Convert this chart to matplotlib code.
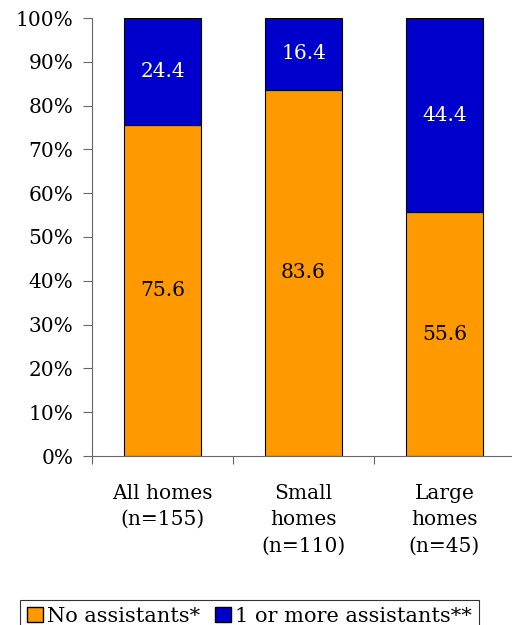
import matplotlib
matplotlib.use('Agg')
from matplotlib import pyplot as plt
from matplotlib.patches import Patch

groups = ['All homes\n(n=155)', 'Small\nhomes\n(n=110)', 'Large\nhomes\n(n=45)']
no_assist = [75.6, 83.6, 55.6]
one_plus = [24.4, 16.4, 44.4]
yticks = [0, 10, 20, 30, 40, 50, 60, 70, 80, 90, 100]

plt.rcParams['font.family'] = ['DejaVu Serif']

fig = plt.figure(figsize=(5.12, 6.25), dpi=100)
ax = fig.add_axes([92 / 512, 169 / 625, 423 / 512, 438 / 625])

orange = '#FF9900'
blue = '#0000CC'
x = range(len(groups))
ax.bar(x, no_assist, width=0.55, color=orange, edgecolor='black', linewidth=0.8)
ax.bar(x, one_plus, width=0.55, bottom=no_assist, color=blue, edgecolor='black', linewidth=0.8)

for i in x:
    ax.text(i, no_assist[i] / 2, f'{no_assist[i]:.1f}', ha='center', va='center',
            fontsize=14.5, color='black')
    ax.text(i, no_assist[i] + one_plus[i] / 2, f'{one_plus[i]:.1f}', ha='center',
            va='center', fontsize=14.5, color='white')

ax.set_xlim(-0.5, 2.5)
ax.set_ylim(0, 100)
ax.set_yticks(yticks)
ax.set_yticklabels([f'{t}%' for t in yticks], fontsize=14.5)
ax.set_xticks([-0.5, 0.5, 1.5, 2.5])
ax.set_xticklabels([])
ax.set_xticks(list(x), minor=True)
ax.set_xticklabels(groups, minor=True, fontsize=14.5, linespacing=1.5, va='top')
ax.tick_params(axis='x', which='minor', length=0, pad=20)
ax.tick_params(axis='x', which='major', length=6, color='#666666')
ax.tick_params(axis='y', length=6.5, color='#666666', pad=7)
for s in ['top', 'right']:
    ax.spines[s].set_visible(False)
for s in ['left', 'bottom']:
    ax.spines[s].set_color('#666666')

handles = [Patch(facecolor=orange, edgecolor='black', label='No assistants*'),
           Patch(facecolor=blue, edgecolor='black', label='1 or more assistants**')]
leg = fig.legend(handles=handles, loc='lower left', bbox_to_anchor=(16 / 512, -0.02),
                 ncol=2, fontsize=15, frameon=True, fancybox=False,
                 handlelength=0.75, handleheight=0.75, handletextpad=0.2,
                 columnspacing=0.7, borderpad=0.35, borderaxespad=0.2)
leg.get_frame().set_edgecolor('black')
leg.get_frame().set_linewidth(0.8)

fig.savefig('out.png', dpi=100)
